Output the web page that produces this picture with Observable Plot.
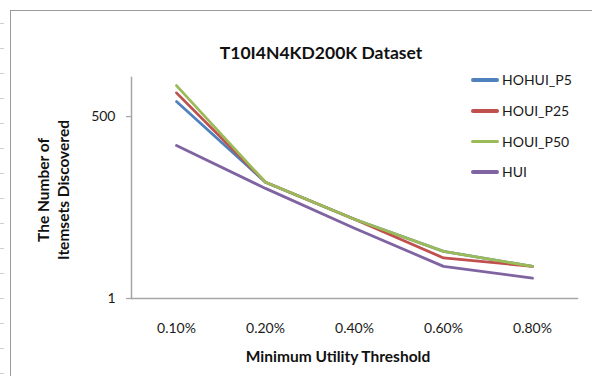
<!DOCTYPE html>
<html>
<head>
<meta charset="utf-8">
<script src="https://cdn.jsdelivr.net/npm/d3@7"></script>
<script src="https://cdn.jsdelivr.net/npm/@observablehq/plot@0.6"></script>
<style>
  html, body { margin: 0; padding: 0; background: #fff; }
  #wrap { position: relative; width: 592px; height: 376px; overflow: hidden; background: #fff; font-family: Lato, "Open Sans", sans-serif; }
  #wrap svg { position: absolute; left: 0; top: 0; }
  .abs { position: absolute; white-space: nowrap; }
  #border { position: absolute; left: 10px; top: 10px; width: 600px; height: 420px; border-left: 1.5px solid #9a9a9a; border-top: 1.5px solid #9a9a9a; }
  #marks { position: absolute; left: 0; top: -1px; width: 4px; height: 380px; background: repeating-linear-gradient(to bottom, transparent 0 24px, #cfcfcf 24px 25px); }
  #title { left: 321px; top: 53px; transform: translate(-50%, -50%); font-weight: 700; font-size: 17.5px; color: #111; line-height: 1; }
  #xtitle { left: 338px; top: 357px; transform: translate(-50%, -50%); font-weight: 700; font-size: 15.5px; color: #111; line-height: 1; }
  #ytitle { left: 53px; top: 190px; transform: translate(-50%, -50%) rotate(-90deg); font-weight: 700; font-size: 15.5px; color: #111; line-height: 20px; text-align: center; }
  .leg-line { position: absolute; left: 471px; width: 28px; height: 3.5px; border-radius: 2px; }
  .leg-text { position: absolute; left: 502px; font-size: 14px; color: #1a1a1a; line-height: 1; transform: translateY(-50%); }
</style>
</head>
<body>
<div id="wrap">
  <div id="marks"></div>
  <div id="border"></div>
</div>
<script>
const categories = ["0.10%", "0.20%", "0.40%", "0.60%", "0.80%"];
const seriesNames = ["HOHUI_P5", "HOUI_P25", "HOUI_P50", "HUI"];
const hohuiP5 = [835, 53, 15, 5, 3];
const houiP25 = [1124, 53, 15, 4, 3];
const houiP50 = [1442, 53, 15, 5, 3];
const hui = [186, 43, 11, 3, 2];
const yTicks = [1, 500];
const yTickLabels = ["1", "500"];
const colors = ["#4F81BD", "#C0504D", "#9BBB59", "#8064A2"];

const seriesValues = [hohuiP5, houiP25, houiP50, hui];
const data = [];
seriesNames.forEach((s, i) => {
  categories.forEach((c, j) => data.push({series: s, cat: c, value: seriesValues[i][j]}));
});
const tickData = yTicks.map((v, i) => ({value: v, label: yTickLabels[i]}));

const W = 592, ML = 131, MR = 15;
const chart = Plot.plot({
  width: W,
  height: 376,
  marginLeft: ML,
  marginRight: MR,
  marginTop: 77,
  marginBottom: 78,
  style: {fontFamily: "Lato, 'Open Sans', sans-serif", fontSize: "14px", background: "transparent", overflow: "visible"},
  x: {type: "point", domain: categories, padding: 0.5, axis: null},
  y: {type: "log", domain: [1, 1900], axis: null},
  color: {domain: seriesNames, range: colors},
  marks: [
    Plot.frame({anchor: "left", stroke: "#a6a6a6", strokeWidth: 1.5}),
    Plot.frame({anchor: "bottom", stroke: "#a6a6a6", strokeWidth: 1.5}),
    Plot.ruleY(tickData, {y: "value", insetLeft: -5, insetRight: W - ML - MR, stroke: "#a6a6a6", strokeWidth: 1.2}),
    Plot.text(tickData, {y: "value", text: "label", frameAnchor: "left", textAnchor: "end", dx: -16, fill: "#1a1a1a", fontSize: 14}),
    Plot.axisX({tickSize: 0, tickPadding: 25, fill: "#1a1a1a", label: null}),
    Plot.line(data, {x: "cat", y: "value", z: "series", stroke: "series", strokeWidth: 2.8, strokeLinejoin: "round", strokeLinecap: "round"})
  ]
});
const wrap = document.getElementById("wrap");
wrap.appendChild(chart);

function addDiv(id, cls, html) {
  const d = document.createElement("div");
  if (id) d.id = id;
  d.className = cls;
  d.innerHTML = html;
  wrap.appendChild(d);
  return d;
}
addDiv("title", "abs", "T10I4N4KD200K Dataset");
addDiv("xtitle", "abs", "Minimum Utility Threshold");
addDiv("ytitle", "abs", "The Number of<br>Itemsets Discovered");

const legY = [80, 111, 141.5, 172];
seriesNames.forEach((s, i) => {
  const l = addDiv(null, "leg-line", "");
  l.style.top = (legY[i] - 1.75) + "px";
  l.style.background = colors[i];
  const t = addDiv(null, "leg-text", s);
  t.style.top = legY[i] + "px";
});
</script>
</body>
</html>
